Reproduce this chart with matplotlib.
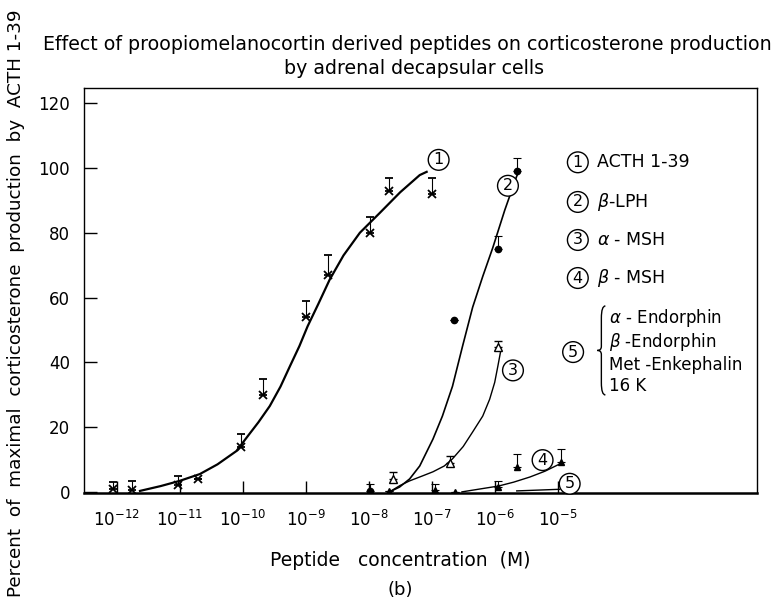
import numpy as np
import matplotlib
matplotlib.use('Agg')
import matplotlib.pyplot as plt
from matplotlib.path import Path
from matplotlib.patches import PathPatch

plt.rcParams['font.family'] = ['DejaVu Sans']

# ---- data (log10 of molar concentration, % of max) ----
# ACTH 1-39 (x markers)
acth_logc = [-12.06, -11.76, -11.03, -10.71, -10.02, -9.68, -9.00, -8.65, -7.98, -7.67, -7.00]
acth_val = [1.0, 0.5, 2.0, 4.0, 14.0, 30.0, 54.0, 67.0, 80.0, 93.0, 92.0]
acth_err = [2.0, 3.0, 3.0, 0.0, 4.0, 5.0, 5.0, 6.0, 5.0, 4.0, 5.0]
acth_curve_logc = [-11.63, -11.3, -11.0, -10.68, -10.4, -10.10, -9.92, -9.75, -9.57, -9.40, -9.25,
                   -9.10, -8.97, -8.80, -8.62, -8.40, -8.14, -7.83, -7.50, -7.19, -7.08]
acth_curve_val = [0.3, 1.8, 3.4, 5.5, 8.5, 12.6, 17.2, 21.5, 26.5, 32.5, 38.8,
                  45.0, 51.1, 58.0, 65.5, 73.0, 80.0, 86.0, 92.5, 97.8, 98.8]

# beta-LPH (filled circles)
lph_logc = [-7.98, -6.65, -5.95, -5.65]
lph_val = [0.3, 53.0, 75.0, 99.0]
lph_err = [2.0, 0.0, 4.0, 4.0]
lph_curve_logc = [-7.67, -7.51, -7.35, -7.19, -6.98, -6.83, -6.67, -6.51, -6.35, -6.19, -6.03, -5.84, -5.65, -5.60]
lph_curve_val = [0.0, 1.5, 4.0, 8.0, 16.3, 23.4, 32.6, 45.0, 57.0, 66.5, 75.4, 87.0, 97.5, 99.4]

# alpha-MSH (open triangles)
amsh_logc = [-7.62, -6.71, -5.94]
amsh_val = [4.0, 9.0, 44.6]
amsh_err = [2.0, 2.0, 2.0]
amsh_curve_logc = [-7.67, -7.50, -7.35, -7.15, -6.98, -6.80, -6.67, -6.50, -6.35, -6.19, -6.08, -6.00, -5.95, -5.90]
amsh_curve_val = [0.0, 2.0, 3.4, 4.9, 6.2, 8.0, 10.2, 14.0, 18.5, 23.4, 28.6, 33.8, 38.8, 44.0]

# beta-MSH (filled triangles)
bmsh_logc = [-7.67, -6.95, -6.63, -5.94, -5.65, -4.94]
bmsh_val = [0.3, 0.5, 0.0, 1.5, 7.7, 9.2]
bmsh_err = [0.0, 2.0, 0.0, 2.0, 4.0, 4.0]
bmsh_curve_logc = [-6.52, -6.2, -5.94, -5.7, -5.44, -5.2, -4.97]
bmsh_curve_val = [0.0, 1.0, 1.8, 3.0, 4.6, 6.4, 8.6]

# endorphins / enkephalin / 16K
endo_curve_logc = [-5.65, -4.97]
endo_curve_val = [0.3, 0.8]

yticks = [0, 20, 40, 60, 80, 100, 120]
xtick_exp = [-12, -11, -10, -9, -8, -7, -6, -5]

legend_labels = ['ACTH 1-39', r'$\beta$-LPH', r'$\alpha$ - MSH', r'$\beta$ - MSH']
group5_labels = [r'$\alpha$ - Endorphin', r'$\beta$ -Endorphin', 'Met -Enkephalin', '16 K']


def conc(logs):
    return [10.0 ** v for v in logs]


fig = plt.figure(figsize=(7.77, 6.13), dpi=100)
ax = fig.add_axes([0.108, 0.196, 0.866, 0.66])

# curves
ax.plot(conc(acth_curve_logc), acth_curve_val, color='black', lw=1.6)
ax.plot(conc(lph_curve_logc), lph_curve_val, color='black', lw=1.2)
ax.plot(conc(amsh_curve_logc), amsh_curve_val, color='black', lw=1.0)
ax.plot(conc(bmsh_curve_logc), bmsh_curve_val, color='black', lw=1.0)
ax.plot(conc(endo_curve_logc), endo_curve_val, color='black', lw=1.0)

ekw = dict(ecolor='black', elinewidth=0.8, capsize=3, capthick=0.8, linestyle='none')
ax.errorbar(conc(acth_logc), acth_val, yerr=[np.zeros(len(acth_err)), acth_err],
            marker='x', ms=6, mew=1.3, color='black', **ekw)
ax.errorbar(conc(lph_logc), lph_val, yerr=[np.zeros(len(lph_err)), lph_err],
            marker='o', ms=4.5, color='black', **ekw)
ax.errorbar(conc(amsh_logc), amsh_val, yerr=[np.zeros(len(amsh_err)), amsh_err],
            marker='^', ms=5.5, mfc='white', mec='black', mew=1.0, color='black', **ekw)
ax.errorbar(conc(bmsh_logc), bmsh_val, yerr=[np.zeros(len(bmsh_err)), bmsh_err],
            marker='^', ms=5, color='black', **ekw)

ax.set_xscale('log')
ax.set_xlim(10 ** -12.52, 10 ** -1.84)
ax.set_ylim(-0.3, 124.6)
ax.set_yticks(yticks)
ax.set_yticklabels([str(v) for v in yticks], fontsize=12)
ax.set_xticks([10.0 ** e for e in xtick_exp])
ax.set_xticklabels([r'$10^{%d}$' % e for e in xtick_exp], fontsize=12)
ax.minorticks_off()
ax.tick_params(axis='both', direction='in', length=9, width=1.0)
ax.tick_params(axis='y', pad=10, right=False)
ax.tick_params(axis='x', pad=12, top=False)
for s in ax.spines.values():
    s.set_linewidth(1.0)
ax.spines['bottom'].set_linewidth(1.8)

circ = dict(boxstyle='circle,pad=0.18', fc='white', ec='black', lw=1.0)

# curve labels
curve_lab_pos = [(-6.89, 102.5), (-5.79, 94.5), (-5.71, 37.5), (-5.24, 9.8), (-4.81, 2.5)]
for i, (lx, ly) in enumerate(curve_lab_pos):
    ax.text(10 ** lx, ly, str(i + 1), fontsize=11.5, ha='center', va='center', bbox=circ, zorder=5)

# legend block
leg_y = [0.817, 0.719, 0.625, 0.531]
for i, (lab, yy) in enumerate(zip(legend_labels, leg_y)):
    ax.text(0.734, yy, str(i + 1), transform=ax.transAxes, fontsize=11.5,
            ha='center', va='center', bbox=circ)
    ax.text(0.763, yy, lab, transform=ax.transAxes, fontsize=12.5, ha='left', va='center')

ax.text(0.727, 0.348, '5', transform=ax.transAxes, fontsize=11.5, ha='center', va='center', bbox=circ)
g5_y = [0.432, 0.373, 0.316, 0.264]
for lab, yy in zip(group5_labels, g5_y):
    ax.text(0.780, yy, lab, transform=ax.transAxes, fontsize=12, ha='left', va='center')

# brace
bx, top, mid, bot = 0.769, 0.462, 0.352, 0.242
verts = [(bx + 0.006, top), (bx, top), (bx, top - 0.03),
         (bx, mid + 0.01), (bx, mid), (bx - 0.006, mid),
         (bx, mid), (bx, mid - 0.01),
         (bx, bot + 0.03), (bx, bot), (bx + 0.006, bot)]
codes = [Path.MOVETO, Path.CURVE3, Path.CURVE3,
         Path.LINETO, Path.CURVE3, Path.CURVE3,
         Path.CURVE3, Path.CURVE3,
         Path.LINETO, Path.CURVE3, Path.CURVE3]
ax.add_patch(PathPatch(Path(verts, codes), transform=ax.transAxes, fc='none', ec='black', lw=1.0))

fig.text(0.524, 0.928, 'Effect of proopiomelanocortin derived peptides on corticosterone production',
         ha='center', va='center', fontsize=13.7)
fig.text(0.533, 0.889, 'by adrenal decapsular cells', ha='center', va='center', fontsize=13.7)
fig.text(0.02, 0.505, 'Percent  of  maximal  corticosterone  production  by  ACTH 1-39',
         rotation=90, ha='center', va='center', fontsize=13.2)
fig.text(0.515, 0.086, 'Peptide   concentration  (M)', ha='center', va='center', fontsize=13.5)
fig.text(0.515, 0.038, '(b)', ha='center', va='center', fontsize=13)

fig.savefig('out.png', dpi=100)
